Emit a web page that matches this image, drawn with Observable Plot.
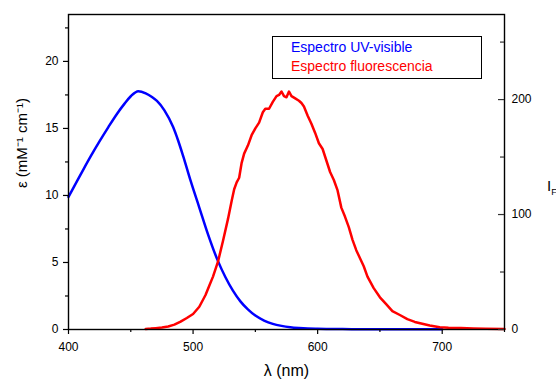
<!DOCTYPE html>
<html>
<head>
<meta charset="utf-8">
<script src="https://cdn.jsdelivr.net/npm/d3@7"></script>
<script src="https://cdn.jsdelivr.net/npm/@observablehq/plot@0.6"></script>
<style>
  body { margin: 0; background: #fff; overflow: hidden; }
  #wrap { position: relative; width: 556px; height: 381px; overflow: hidden; font-family: "Liberation Sans", Arial, sans-serif; }
  #legend { position: absolute; left: 272px; top: 36px; width: 210px; height: 43px; border: 1px solid #000; box-sizing: border-box; font-size: 14px; line-height: 19px; padding: 1px 0 0 18px; background: #fff; }
  #rlabel { position: absolute; left: 547px; top: 177px; font-size: 15px; color: #000; }
  #rlabel sub { font-size: 9px; }
</style>
</head>
<body>
<div id="wrap">
  <div id="chart"></div>
  <div id="legend"><div style="color:#0000ff">Espectro UV-visible</div><div style="color:#ff0000">Espectro fluorescencia</div></div>
  <div id="rlabel">I<sub>F</sub></div>
</div>
<script>
// UV-visible absorption (left axis, mM^-1 cm^-1)
const uvWavelength = [400,405,412,418,425,432,439,445,450,456,462,467,471,477,484,488,492,498,505,512,520,526,532,538,544,550,557,564,571,578,585,592,600,620,650,680,700];
const uvEpsilon    = [9.9,10.75,11.95,12.95,14.05,15.1,16.1,16.85,17.4,17.78,17.62,17.35,17.05,16.35,15.1,14.1,12.95,11.1,9.1,7.1,5.1,3.9,2.9,2.1,1.5,1.04,0.67,0.42,0.27,0.17,0.11,0.07,0.05,0.03,0.02,0.01,0.01];

// Fluorescence emission (right axis, a.u.)
const flWavelength = [462,466,470,475,480,485,490,495,500,505,510,513,516,520,524,528,531,533,535,537,539,541,544,547,550,553,556,558,561,564,567,569,571,573,575,577,579,582,585,587,589,592,595,598,601,604,607,610,613,616,619,622,625,628,631,634,637,640,645,650,655,660,666,672,678,684,690,698,705,715,725,735,750];
const flIntensity  = [0.5,0.8,1.2,1.8,2.6,4.2,6.8,10,13.5,19.8,30,38,46,59,77,96,112,122,128,132,145,153,160,169,175,180,189,192,192,198,203,204,207,203,202,207,203,201,199,197,194,186,179,171,162,157,147,137,130,121,106,98,89,78,69,62,55,46,36,28,22,16,12.6,9,6.6,5,3.5,2,1.5,1.2,0.9,0.7,0.5];

// Axis ticks and labels
const xTicks = [400,500,600,700];
const xMinorTicks = [450,550,650,750];
const leftTicks = [0,5,10,15,20];
const leftMinorTicks = [2.5,7.5,12.5,17.5,22.5];
const rightTicks = [0,100,200];
const rightMinorTicks = [50,150,250];
const xLabel = "λ (nm)";
const yLabel = "ε (mM⁻¹ cm⁻¹)";

const xDomain = [400,750];
const leftMax = 23.5;
const rightMax = 274;
const k = leftMax / rightMax;

const uv = uvWavelength.map((w,i) => ({w, v: uvEpsilon[i]}));
const fl = flWavelength.map((w,i) => ({w, v: flIntensity[i] * k}));
const blank = () => "";
const W = 556, mL = 68, mR = 52;
const frameW = W - mL - mR;

const chart = Plot.plot({
  width: W,
  height: 381,
  marginLeft: mL,
  marginRight: mR,
  marginTop: 14,
  marginBottom: 52,
  style: {fontFamily: "'Liberation Sans', Arial, sans-serif", fontSize: "12px", color: "#000", background: "#fff"},
  x: {domain: xDomain},
  y: {domain: [0, leftMax]},
  marks: [
    Plot.line(uv, {x: "w", y: "v", stroke: "#0000ff", strokeWidth: 2.5, curve: "monotone-x"}),
    Plot.line(fl, {x: "w", y: "v", stroke: "#ff0000", strokeWidth: 2.5}),
    Plot.frame({stroke: "#000", strokeWidth: 1.4}),
    // bottom axis
    Plot.axisX({ticks: xTicks, tickSize: 5, tickPadding: 8, tickFormat: d => d, strokeWidth: 1.2, label: null}),
    Plot.axisX({ticks: xMinorTicks, tickSize: 3, tickFormat: blank, strokeWidth: 1.2, label: null}),
    // left axis
    Plot.axisY({ticks: leftTicks, tickSize: 5, tickPadding: 5, tickFormat: d => d, strokeWidth: 1.2, label: null}),
    Plot.axisY({ticks: leftMinorTicks, tickSize: 3, tickFormat: blank, strokeWidth: 1.2, label: null}),
    // right axis (labels outside, ticks inside)
    Plot.axisY({anchor: "right", ticks: rightTicks.map(v => v * k), tickSize: 0, tickPadding: 7, tickFormat: d => Math.round(d / k), label: null}),
    Plot.tickY(rightTicks, {y: d => d * k, insetLeft: frameW - 6, stroke: "#333", strokeWidth: 1.2}),
    Plot.tickY(rightMinorTicks, {y: d => d * k, insetLeft: frameW - 4, stroke: "#333", strokeWidth: 1.2}),
    // axis titles
    Plot.text([xLabel], {text: d => d, frameAnchor: "bottom", dy: 46, fontSize: 16}),
    Plot.text([yLabel], {text: d => d, frameAnchor: "left", dx: -46, dy: 16, rotate: -90, fontSize: 15})
  ]
});
document.getElementById("chart").appendChild(chart);
</script>
</body>
</html>
